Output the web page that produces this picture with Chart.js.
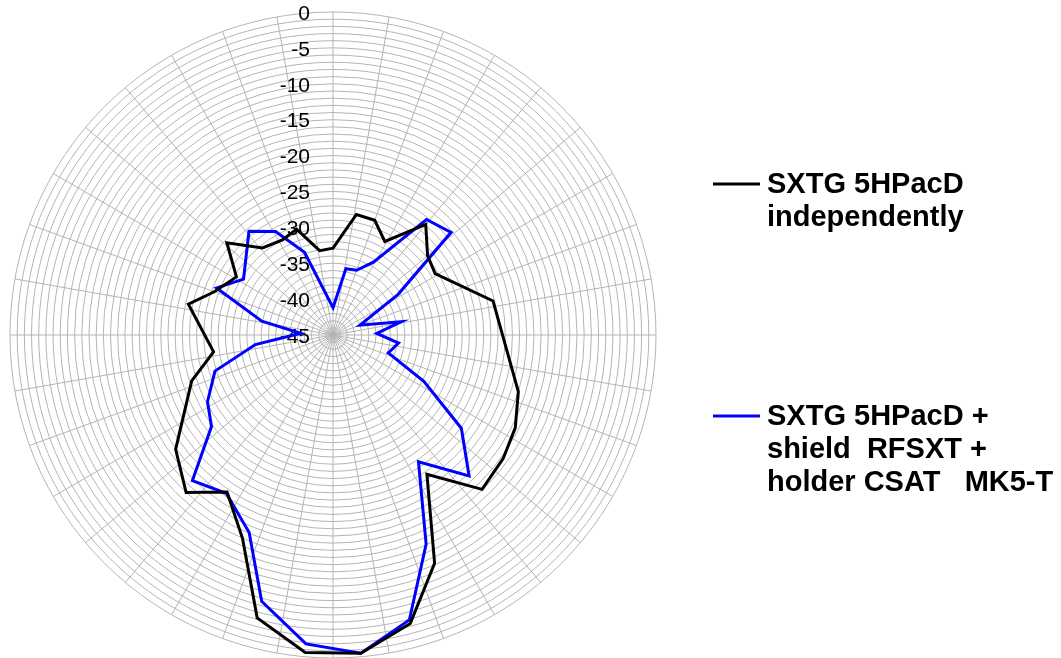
<!DOCTYPE html>
<html>
<head>
<meta charset="utf-8">
<script src="https://cdn.jsdelivr.net/npm/chart.js@4"></script>
<style>
  html, body { margin: 0; padding: 0; background: #fff; }
  #wrap { width: 1061px; height: 658px; position: relative; }
</style>
</head>
<body>
<div id="wrap"><canvas id="radar"></canvas></div>
<script>
/* Radiation pattern, dB, one category per degree */
const degrees = Array.from({ length: 360 }, (_, i) => String(i));
const tickLabels = [0, -5, -10, -15, -20, -25, -30, -35, -40, -45];

const seriesNames = [
  ["SXTG 5HPacD", "independently"],
  ["SXTG 5HPacD +", "shield  RFSXT +", "holder CSAT   MK5-T"]
];

// measured vertices: angle (deg, clockwise from top) and level (dB)
const aloneAngles = [0, 11, 20, 29, 40, 50, 59, 78, 107, 117, 126, 136, 146, 156, 165, 175,
  185, 195, 204, 214, 223, 234, 252, 262, 282, 290, 301, 311, 321, 332, 341, 351];
const aloneValues = [-32.9, -27.9, -28.0, -30.1, -24.9, -27.8, -28.4, -22.2, -18.0, -16.5, -15.7, -15.1, -21.6, -10.2, -3.4, -0.5,
  -0.6, -4.2, -14.0, -18.6, -15.0, -17.9, -24.3, -28.2, -24.4, -27.4, -29.3, -25.4, -29.4, -30.0, -29.4, -33.1];

const shieldAngles = [0, 11, 20, 29, 39, 49, 58, 70, 79, 88, 97, 108, 117, 126, 136, 146, 156, 165, 175,
  185, 195, 203, 214, 224, 233, 242, 253, 263, 273, 281, 292, 302, 321, 331, 341];
const shieldValues = [-41.2, -35.6, -35.4, -33.4, -24.3, -23.2, -34.3, -41.0, -35.3, -38.9, -35.8, -36.9, -30.8, -22.9, -17.7, -23.7, -13.1, -3.9, -0.5,
  -1.8, -6.6, -15.1, -18.4, -16.8, -23.8, -25.2, -27.8, -34.1, -40.5, -34.9, -27.5, -30.3, -26.4, -28.5, -32.8];

function toSeries(angles, values) {
  const out = degrees.map(() => null);
  angles.forEach((a, i) => { out[a] = values[i]; });
  return out;
}

const FONT = '"Liberation Sans", Arial, Helvetica, sans-serif';

const tickLabelPlugin = {
  id: "tickLabels",
  beforeDatasetsDraw(chart) {
    const r = chart.scales.r;
    const ctx = chart.ctx;
    ctx.save();
    ctx.font = "21px " + FONT;
    ctx.fillStyle = "#000";
    ctx.textAlign = "right";
    ctx.textBaseline = "middle";
    tickLabels.forEach(v => {
      const y = r.yCenter - r.getDistanceFromCenterForValue(v);
      ctx.fillText(String(v), r.xCenter - 23, y + 2);
    });
    ctx.restore();
  }
};

const sideLegend = {
  id: "sideLegend",
  afterDraw(chart) {
    const ctx = chart.ctx;
    const lineY = [184, 416];
    const firstBase = [193, 425];
    ctx.save();
    chart.data.datasets.forEach((ds, i) => {
      ctx.strokeStyle = ds.borderColor;
      ctx.lineWidth = 3;
      ctx.beginPath();
      ctx.moveTo(713, lineY[i]);
      ctx.lineTo(760, lineY[i]);
      ctx.stroke();
      ctx.font = "bold 29px " + FONT;
      ctx.fillStyle = "#000";
      ctx.textAlign = "left";
      ctx.textBaseline = "alphabetic";
      ds.label.forEach((line, j) => ctx.fillText(line, 767, firstBase[i] + j * 33));
    });
    ctx.restore();
  }
};

new Chart(document.getElementById("radar"), {
  type: "radar",
  data: {
    labels: degrees,
    datasets: [{
      label: seriesNames[0],
      data: toSeries(aloneAngles, aloneValues),
      borderColor: "#000000",
      borderWidth: 3,
      fill: false,
      spanGaps: true,
      pointRadius: 0,
      borderJoinStyle: "miter"
    }, {
      label: seriesNames[1],
      data: toSeries(shieldAngles, shieldValues),
      borderColor: "#0000ff",
      borderWidth: 3,
      fill: false,
      spanGaps: true,
      pointRadius: 0,
      borderJoinStyle: "miter"
    }]
  },
  options: {
    responsive: true,
    maintainAspectRatio: false,
    animation: false,
    spanGaps: true,
    layout: { padding: { left: 10, top: 12, right: 405, bottom: 0 } },
    plugins: { legend: { display: false }, tooltip: { enabled: false } },
    scales: {
      r: {
        min: -45,
        max: 0,
        startAngle: 0,
        ticks: { display: false, stepSize: 1, maxTicksLimit: 100 },
        pointLabels: { display: false },
        grid: { circular: true, color: "#b4b4b4", lineWidth: 1 },
        angleLines: {
          color: "#b4b4b4",
          lineWidth: ctx => (ctx.index % 10 === 0 ? 1 : 0)
        }
      }
    }
  },
  plugins: [tickLabelPlugin, sideLegend]
});
</script>
</body>
</html>
